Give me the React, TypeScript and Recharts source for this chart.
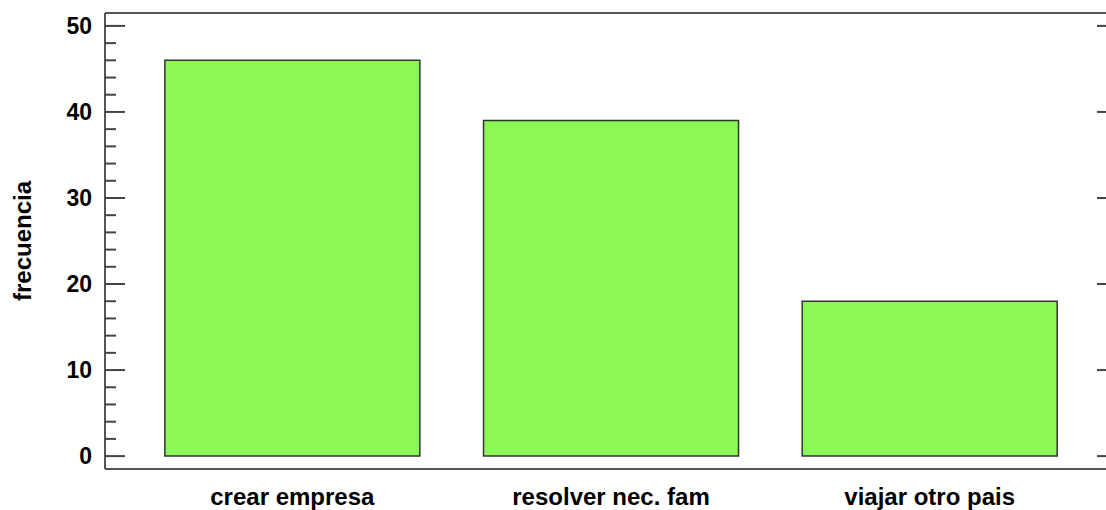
import { BarChart, Bar, XAxis, YAxis, ReferenceLine } from "recharts";

const categories = ["crear empresa", "resolver nec. fam", "viajar otro pais"];
const frecuencia = [46, 39, 18];
const yTicks = [0, 2, 4, 6, 8, 10, 12, 14, 16, 18, 20, 22, 24, 26, 28, 30, 32, 34, 36, 38, 40, 42, 44, 46, 48, 50];
const yMajor = [0, 10, 20, 30, 40, 50];
const yDomain = [-1.5, 51.5];

const data = categories.map((name, i) => ({ name, value: frecuencia[i] }));

const font = "'Liberation Sans', Arial, sans-serif";
const axisColor = "#555";

const LeftTick = (props: any) => {
  const { x, y, payload } = props;
  const major = yMajor.includes(payload.value);
  return (
    <g>
      <line x1={x} x2={x + (major ? 20 : 11)} y1={y} y2={y} stroke="#444" strokeWidth={2} />
      {major && (
        <text x={x - 13} y={y + 8} textAnchor="end" fontFamily={font} fontWeight="bold" fontSize={23} fill="#000">
          {payload.value}
        </text>
      )}
    </g>
  );
};

const RightTick = (props: any) => {
  const { x, y, payload } = props;
  if (!yMajor.includes(payload.value)) return <g />;
  return <line x1={x - 20} x2={x} y1={y} y2={y} stroke="#444" strokeWidth={2} />;
};

const BottomTick = (props: any) => {
  const { x, y, payload } = props;
  return (
    <text x={x} y={y + 36} textAnchor="middle" fontFamily={font} fontWeight="bold" fontSize={24} fill="#000">
      {payload.value}
    </text>
  );
};

export default function App() {
  return (
    <div style={{ position: "absolute", left: 0, top: 0, width: 1106, height: 510, overflow: "hidden", background: "#fff" }}>
      <BarChart width={1130} height={510} data={data} margin={{ top: 13, right: 0, bottom: 0, left: 0 }}>
        <XAxis
          dataKey="name"
          height={41}
          padding={{ left: 28, right: 28 }}
          axisLine={{ stroke: axisColor, strokeWidth: 2 }}
          tickLine={false}
          tickSize={0}
          tickMargin={0}
          tick={<BottomTick />}
          interval={0}
        />
        <YAxis
          width={105}
          domain={yDomain}
          allowDataOverflow
          ticks={yTicks}
          interval={0}
          axisLine={{ stroke: axisColor, strokeWidth: 2 }}
          tickLine={false}
          tickSize={0}
          tickMargin={0}
          tick={<LeftTick />}
          label={{
            value: "frecuencia",
            angle: -90,
            position: "insideLeft",
            offset: 22,
            style: { fontFamily: font, fontWeight: "bold", fontSize: 24, fill: "#000", textAnchor: "middle" },
          }}
        />
        <YAxis
          yAxisId="right"
          orientation="right"
          width={13}
          domain={yDomain}
          allowDataOverflow
          ticks={yTicks}
          interval={0}
          axisLine={{ stroke: axisColor, strokeWidth: 2 }}
          tickLine={false}
          tickSize={0}
          tickMargin={0}
          tick={<RightTick />}
        />
        <ReferenceLine y={yDomain[1]} stroke={axisColor} strokeWidth={2} ifOverflow="visible" />
        <Bar
          dataKey="value"
          fill="#8BF853"
          stroke="#333"
          strokeWidth={1.5}
          barCategoryGap="10%"
          isAnimationActive={false}
        />
      </BarChart>
    </div>
  );
}
